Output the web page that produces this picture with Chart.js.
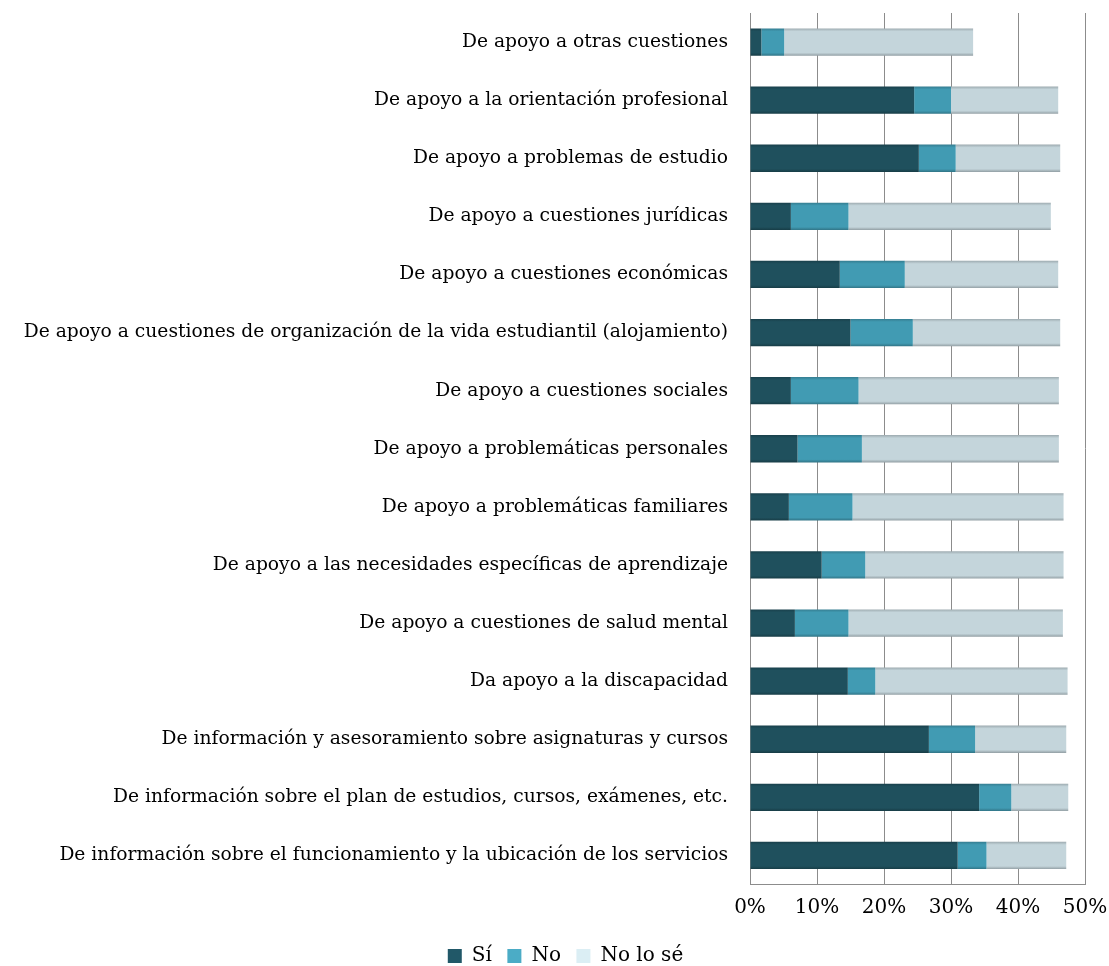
<!DOCTYPE html>
<html>
<head>
<meta charset="utf-8">
<script src="https://cdn.jsdelivr.net/npm/chart.js@4"></script>
<style>
  html, body { margin: 0; padding: 0; background: #ffffff; }
  #wrap { position: relative; width: 1109px; height: 966px; }
</style>
</head>
<body>
<div id="wrap"><canvas id="c"></canvas></div>
<script>
// Servicios de apoyo: Sí / No / No lo sé (porcentaje), barras apiladas horizontales

const categories = [
  'De apoyo a otras cuestiones',
  'De apoyo a la orientación profesional',
  'De apoyo a problemas de estudio',
  'De apoyo a cuestiones jurídicas',
  'De apoyo a cuestiones económicas',
  'De apoyo a cuestiones de organización de la vida estudiantil (alojamiento)',
  'De apoyo a cuestiones sociales',
  'De apoyo a problemáticas personales',
  'De apoyo a problemáticas familiares',
  'De apoyo a las necesidades específicas de aprendizaje',
  'De apoyo a cuestiones de salud mental',
  'Da apoyo a la discapacidad',
  'De información y asesoramiento sobre asignaturas y cursos',
  'De información sobre el plan de estudios, cursos, exámenes, etc.',
  'De información sobre el funcionamiento y la ubicación de los servicios'
];

const si     = [1.7, 24.5, 25.2, 6.1, 13.4, 15.0, 6.1, 7.1, 5.8, 10.7, 6.7, 14.6, 26.7, 34.2, 31.0];
const no     = [3.4,  5.5,  5.5, 8.6,  9.7,  9.3, 10.1, 9.6, 9.5,  6.5, 8.0,  4.1,  6.9,  4.8,  4.3];
const noLoSe = [28.2, 16.0, 15.6, 30.2, 22.9, 22.0, 29.9, 29.4, 31.5, 29.6, 32.0, 28.7, 13.6, 8.5, 11.9];

const seriesNames  = ['Sí', 'No', 'No lo sé'];
const barColors    = ['#1f505d', '#419bb3', '#c4d5db'];
const legendColors = ['#215868', '#4bacc6', '#dbeef4'];
const xTicks = [0, 10, 20, 30, 40, 50];

const FONT = '"DejaVu Serif", "Liberation Serif", serif';

// shade each bar a bit darker at its top and bottom edge
function shade(hex, f) {
  const n = parseInt(hex.slice(1), 16);
  const r = Math.round(((n >> 16) & 255) * f);
  const g = Math.round(((n >> 8) & 255) * f);
  const b = Math.round((n & 255) * f);
  return 'rgb(' + r + ',' + g + ',' + b + ')';
}

function barFill(series) {
  return function (context) {
    const chart = context.chart;
    const yScale = chart.scales && chart.scales.y;
    if (!yScale || context.dataIndex === undefined || !chart.chartArea) {
      return barColors[series];
    }
    const yc = yScale.getPixelForValue(context.dataIndex);
    const half = 14;
    const g = chart.ctx.createLinearGradient(0, yc - half, 0, yc + half);
    const base = barColors[series];
    g.addColorStop(0, shade(base, 0.78));
    g.addColorStop(0.12, base);
    g.addColorStop(0.5, base);
    g.addColorStop(0.88, base);
    g.addColorStop(1, shade(base, 0.72));
    return g;
  };
}

// long category labels may run left of the y-axis box; let them draw there
const labelRoom = {
  id: 'labelRoom',
  afterLayout: function (chart) {
    chart.scales.y.left = 0;
  }
};

const values = [si, no, noLoSe];

const ctx = document.getElementById('c').getContext('2d');
new Chart(ctx, {
  type: 'bar',
  data: {
    labels: categories,
    datasets: values.map(function (arr, i) {
      return {
        label: seriesNames[i],
        data: arr,
        backgroundColor: barFill(i),
        borderWidth: 0,
        barPercentage: 0.47,
        categoryPercentage: 1.0
      };
    })
  },
  options: {
    indexAxis: 'y',
    responsive: true,
    maintainAspectRatio: false,
    animation: false,
    layout: { padding: { top: 13, left: 46, right: 24, bottom: -10 } },
    scales: {
      x: {
        stacked: true,
        min: 0,
        max: 50,
        afterBuildTicks: function (scale) {
          scale.ticks = xTicks.map(function (v) { return { value: v }; });
        },
        afterFit: function (scale) {
          scale.paddingLeft = 0;
          scale.paddingRight = 0;
        },
        ticks: {
          color: '#000',
          font: { family: FONT, size: 20 },
          padding: 11,
          maxRotation: 0,
          callback: function (v) { return v + '%'; }
        },
        grid: { color: '#8c8c8c', lineWidth: 1, drawTicks: false },
        border: { display: true, color: '#8c8c8c', width: 1 }
      },
      y: {
        stacked: true,
        afterFit: function (scale) {
          scale.width = 704;
          scale.paddingTop = 0;
          scale.paddingBottom = 0;
        },
        ticks: {
          color: '#000',
          font: { family: FONT, size: 18.7 },
          padding: 22,
          autoSkip: false
        },
        grid: { display: false, drawTicks: false },
        border: { display: true, color: '#8c8c8c', width: 1 }
      }
    },
    plugins: {
      legend: {
        position: 'bottom',
        labels: {
          color: '#000',
          font: { family: FONT, size: 20 },
          boxWidth: 14,
          boxHeight: 14,
          padding: 15.5,
          generateLabels: function (chart) {
            return seriesNames.map(function (name, i) {
              return {
                text: name,
                fillStyle: legendColors[i],
                strokeStyle: legendColors[i],
                lineWidth: 0,
                hidden: false,
                datasetIndex: i
              };
            });
          }
        }
      },
      tooltip: { enabled: true }
    }
  },
  plugins: [labelRoom]
});
</script>
</body>
</html>
